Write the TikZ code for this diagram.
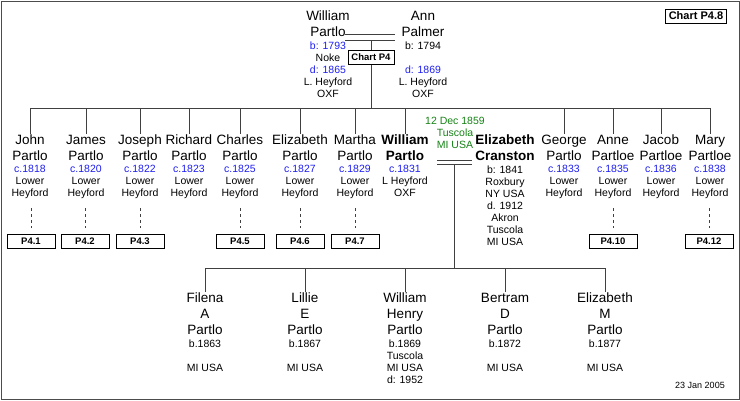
\documentclass[tikz,border=0pt]{standalone}
\usepackage{fontspec}
\setmainfont{Liberation Sans}
\definecolor{bl}{RGB}{30,30,240}
\definecolor{gr}{RGB}{20,130,20}
\newcommand{\nm}[1]{{\fontsize{13.5}{15}\selectfont\strut #1}}
\newcommand{\bn}[1]{{\fontsize{13.5}{15}\selectfont\bfseries\strut #1}}
\newcommand{\dt}[1]{{\color{bl}#1}}
\begin{document}
\begin{tikzpicture}[x=1pt,y=-1pt,
  person/.style={inner sep=0pt,align=center,anchor=north,font=\fontsize{10.5}{12}\selectfont},
  refbox/.style={draw,line width=0.8pt,minimum width=48pt,minimum height=14pt,inner sep=0pt,font=\fontsize{9.5}{11}\selectfont\bfseries},
  ln/.style={line width=0.7pt,draw=black!75}]
\useasboundingbox (0,0) rectangle (740,400);
\draw[line width=0.8pt,draw=black!70] (1,1) rectangle (739,399);
\node[draw,line width=0.8pt,inner sep=3pt,font=\fontsize{11}{13}\selectfont\bfseries] (chart) at (696,16) {Chart P4.8};
% parents
\node[person] (wp) at (328,10) {\nm{William}\\\nm{Partlo}\\\dt{b: 1793}\\Noke\\\dt{d: 1865}\\L. Heyford\\OXF};
\node[person] (ap) at (423,10) {\nm{Ann}\\\nm{Palmer}\\b: 1794\\\mbox{}\\\dt{d: 1869}\\L. Heyford\\OXF};
\coordinate (m1a) at (345,34); \coordinate (m1b) at (395,34);
\coordinate (m2a) at (345,40); \coordinate (m2b) at (395,40);
\draw[ln] (m1a)--(m1b); \draw[ln] (m2a)--(m2b);
\coordinate (top) at (371,40); \coordinate (bar) at (371,108);
\draw[ln] (top)--(bar);
\node[refbox,fill=white,minimum width=46pt] (p4) at (371,57) {Chart P4};
\coordinate (barL) at (30,108); \coordinate (barR) at (710,108);
\draw[ln] (barL)--(barR);
% children
\foreach \n/\x/\a/\b/\d in {c1/30/John/Partlo/1818, c2/86/James/Partlo/1820, c3/140/Joseph/Partlo/1822, c4/189/Richard/Partlo/1823, c5/240/Charles/Partlo/1825, c6/300/Elizabeth/Partlo/1827, c7/355/Martha/Partlo/1829, c9/564/George/Partlo/1833, c10/613/Anne/Partloe/1835, c11/661/Jacob/Partloe/1836, c12/710/Mary/Partloe/1838}{
  \node[person] (\n) at (\x,134) {\nm{\a}\\\nm{\b}\\\dt{c.\d}\\Lower\\Heyford};
  \coordinate (\n t) at (\x,108);
  \draw[ln] (\n t)--(\n.north);
}
\node[person] (c8) at (405,134) {\bn{William}\\\bn{Partlo}\\\dt{c.1831}\\L Heyford\\OXF};
\coordinate (c8t) at (405,108); \draw[ln] (c8t)--(c8.north);
\node[person] (ec) at (505,134) {\bn{Elizabeth}\\\bn{Cranston}\\b: 1841\\Roxbury\\NY USA\\d. 1912\\Akron\\Tuscola\\MI USA};
\node[person,text=gr] (mar) at (455,117) {12 Dec 1859\\Tuscola\\MI USA};
% ref boxes
\foreach \c/\x/\l/\k in {c1/31/P4.1/a, c2/85/P4.2/b, c3/140/P4.3/c, c5/240/P4.5/e, c6/300/P4.6/f, c7/355/P4.7/g, c10/613/P4.10/j, c12/709/P4.12/l}{
  \node[refbox] (r\k) at (\x,241) {\l};
  \coordinate (d\k) at (\x,208);
  \draw[ln,dashed,line width=0.5pt] (d\k) -- ([yshift=6pt]r\k.north);
}
% marriage 2
\coordinate (n1a) at (437,160); \coordinate (n1b) at (472,160);
\coordinate (n2a) at (437,164); \coordinate (n2b) at (472,164);
\draw[ln] (n1a)--(n1b); \draw[ln] (n2a)--(n2b);
\coordinate (mtop) at (454,164); \coordinate (mbar) at (454,268);
\draw[ln] (mtop)--(mbar);
\coordinate (gL) at (205,268); \coordinate (gR) at (605,268);
\draw[ln] (gL)--(gR);
\foreach \n/\x/\t in {g1/205/{\nm{Filena}\\\nm{A}\\\nm{Partlo}\\b.1863\\\mbox{}\\MI USA},
  g2/305/{\nm{Lillie}\\\nm{E}\\\nm{Partlo}\\b.1867\\\mbox{}\\MI USA},
  g3/405/{\nm{William}\\\nm{Henry}\\\nm{Partlo}\\b.1869\\Tuscola\\MI USA\\d: 1952},
  g4/505/{\nm{Bertram}\\\nm{D}\\\nm{Partlo}\\b.1872\\\mbox{}\\MI USA},
  g5/605/{\nm{Elizabeth}\\\nm{M}\\\nm{Partlo}\\b.1877\\\mbox{}\\MI USA}}{
  \node[person] (\n) at (\x,292) {\t};
  \coordinate (\n t) at (\x,268);
  \draw[ln] (\n t)--(\n.north);
}
\node[font=\fontsize{9}{11}\selectfont] (date) at (700,385) {23 Jan 2005};
\end{tikzpicture}
\end{document}
